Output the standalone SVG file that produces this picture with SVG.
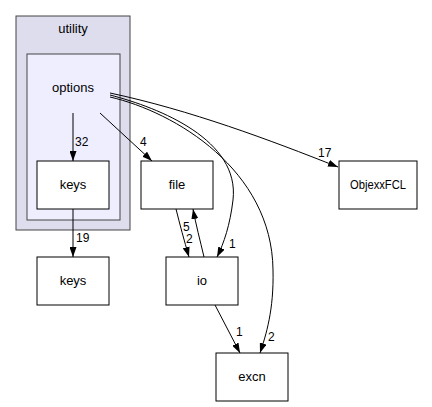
<svg xmlns="http://www.w3.org/2000/svg" width="432" height="407" viewBox="0 0 432 407">
<style>
text{font-family:"Liberation Sans",Arial,sans-serif;font-size:13px;fill:#000}
.node rect{fill:#fff;stroke:#000;stroke-width:1}
.lbl{text-anchor:middle}
.el{font-size:12px}
.edge{fill:none;stroke:#000;stroke-width:1}
</style>
<defs>
<marker id="ah" viewBox="0 0 10 7" markerWidth="10" markerHeight="7" markerUnits="userSpaceOnUse" refX="10" refY="3.5" orient="auto">
<path d="M0,0 L10,3.5 L0,7 z" fill="#000"/>
</marker>
</defs>
<rect width="432" height="407" fill="#fff"/>
<g id="cluster_utility">
<rect x="16" y="16" width="114" height="214" fill="#ddddee" stroke="#444"/>
<text x="73" y="33" class="lbl">utility</text>
</g>
<g id="cluster_options">
<rect x="27" y="54" width="93" height="166" fill="#eeeeff" stroke="#444"/>
<text x="73" y="92" class="lbl">options</text>
</g>
<g id="connectors">
<path class="edge" marker-end="url(#ah)" d="M73,113 L73,161"/>
<text x="75" y="146" class="el">32</text>
<path class="edge" marker-end="url(#ah)" d="M100,113 L152,161"/>
<text x="140" y="146" class="el">4</text>
<path class="edge" marker-end="url(#ah)" d="M110,93 C190,110 270,140 338,167"/>
<text x="318" y="157" class="el">17</text>
<path class="edge" marker-end="url(#ah)" d="M110,95 C160,108 240,140 233,200 C230,225 224,243 217,257"/>
<text x="229" y="248" class="el">1</text>
<path class="edge" marker-end="url(#ah)" d="M110,97 C175,112 272,170 273,270 C274,310 266,335 260,353"/>
<text x="268" y="341" class="el">2</text>
<path class="edge" marker-end="url(#ah)" d="M176,209 C180,225 184,240 189,257"/>
<text x="183" y="231" class="el">5</text>
<path class="edge" marker-end="url(#ah)" d="M204,257 C200,240 196,225 193,209"/>
<text x="186" y="243" class="el">2</text>
<path class="edge" marker-end="url(#ah)" d="M215,305 L240,353"/>
<text x="236" y="336" class="el">1</text>
<path class="edge" marker-end="url(#ah)" d="M73,209 L73,257"/>
<text x="76" y="242" class="el">19</text>
</g>
<g id="node_options_keys" class="node">
<rect x="37" y="161" width="72" height="48"/>
<text x="73" y="189" class="lbl">keys</text>
</g>
<g id="node_file" class="node">
<rect x="141" y="161" width="72" height="48"/>
<text x="177" y="189" class="lbl">file</text>
</g>
<g id="node_ObjexxFCL" class="node">
<rect x="339" y="161" width="78" height="48"/>
<text x="378" y="189" class="lbl" textLength="56" lengthAdjust="spacingAndGlyphs">ObjexxFCL</text>
</g>
<g id="node_keys" class="node">
<rect x="37" y="257" width="72" height="48"/>
<text x="73" y="285" class="lbl">keys</text>
</g>
<g id="node_io" class="node">
<rect x="166" y="257" width="72" height="48"/>
<text x="202" y="285" class="lbl">io</text>
</g>
<g id="node_excn" class="node">
<rect x="216" y="353" width="72" height="48"/>
<text x="252" y="381" class="lbl">excn</text>
</g>
</svg>
